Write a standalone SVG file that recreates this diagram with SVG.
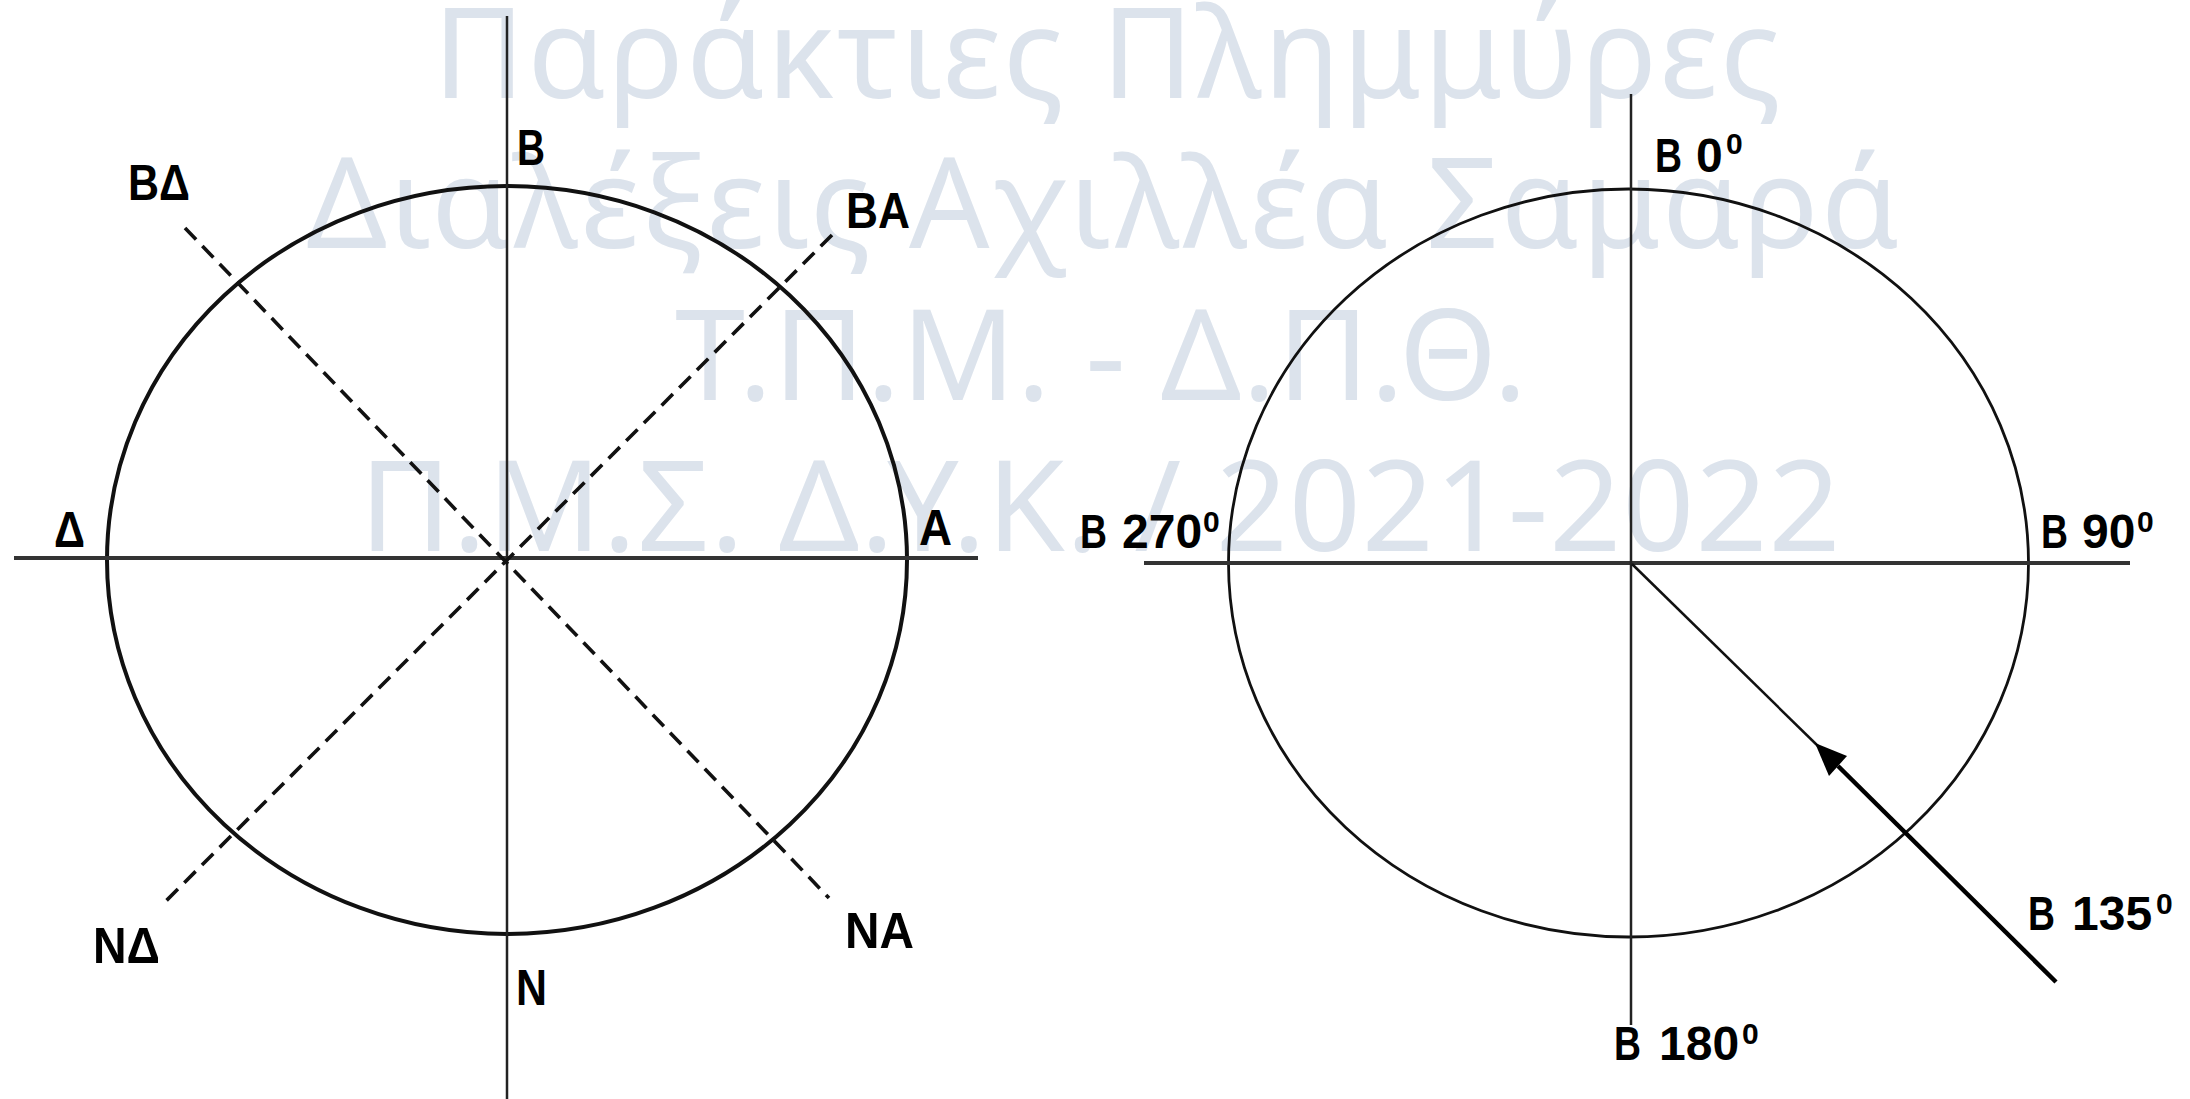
<svg xmlns="http://www.w3.org/2000/svg" width="2190" height="1099" viewBox="0 0 2190 1099">
<style>
.wm{font-family:"Noto Sans","Open Sans",sans-serif;font-size:126px;fill:#dce3ec;text-anchor:middle}
.lbl{font-family:"Liberation Sans",Arial,sans-serif;font-weight:bold;font-size:50px;fill:#000}
.deg{font-family:"Liberation Sans",Arial,sans-serif;font-weight:bold;font-size:48px;fill:#000}
.sup{font-size:30px}
.ell{fill:none;stroke:#111}
.axis-h{stroke:#333;stroke-width:4}
.axis-v{stroke:#222;stroke-width:2.5}
.dash{stroke:#111;stroke-width:3.6;stroke-dasharray:16 9;fill:none}
</style>
<rect width="2190" height="1099" fill="#fff"/>
<g id="watermark">
<text class="wm" x="1107" y="98" textLength="1348" lengthAdjust="spacing">Παράκτιες Πλημμύρες</text>
<text class="wm" x="1103" y="248" textLength="1593" lengthAdjust="spacing">Διαλέξεις Αχιλλέα Σαμαρά</text>
<text class="wm" x="1101" y="400" textLength="852" lengthAdjust="spacing">Τ.Π.Μ. - Δ.Π.Θ.</text>
<text class="wm" x="1100" y="551" textLength="1481" lengthAdjust="spacing">Π.Μ.Σ. Δ.Υ.Κ. / 2021-2022</text>
</g>
<g id="left-compass">
<ellipse class="ell" cx="507" cy="560" rx="400" ry="374" stroke-width="4"/>
</g>
<g id="right-compass">
<ellipse class="ell" cx="1628.5" cy="563" rx="400" ry="374" stroke-width="2.8"/>
</g>
<g id="connectors">
<line class="axis-h" x1="14" y1="558" x2="978" y2="558"/>
<line class="axis-v" x1="507" y1="16" x2="507" y2="1099"/>
<line class="dash" x1="185" y1="228" x2="829" y2="898"/>
<line class="dash" x1="832" y1="235" x2="165" y2="902"/>
<line class="axis-h" x1="1144" y1="563" x2="2130" y2="563"/>
<line class="axis-v" x1="1631" y1="94" x2="1631" y2="1025"/>
<line x1="1632" y1="564" x2="1820" y2="748" stroke="#111" stroke-width="2.5"/>
<line x1="1838" y1="766" x2="2056" y2="982" stroke="#000" stroke-width="4.5"/>
<polygon points="1815,743 1847,756 1829,776" fill="#000"/>
</g>
<g id="labels-left">
<text class="lbl" x="517" y="165" textLength="28" lengthAdjust="spacingAndGlyphs">Β</text>
<text class="lbl" x="128" y="200" textLength="62" lengthAdjust="spacingAndGlyphs">ΒΔ</text>
<text class="lbl" x="846" y="228" textLength="64" lengthAdjust="spacingAndGlyphs">ΒΑ</text>
<text class="lbl" x="54" y="547" textLength="31" lengthAdjust="spacingAndGlyphs">Δ</text>
<text class="lbl" x="919" y="545" textLength="33" lengthAdjust="spacingAndGlyphs">Α</text>
<text class="lbl" x="93" y="963" textLength="67" lengthAdjust="spacingAndGlyphs">ΝΔ</text>
<text class="lbl" x="845" y="948" textLength="69" lengthAdjust="spacingAndGlyphs">ΝΑ</text>
<text class="lbl" x="516" y="1005" textLength="31" lengthAdjust="spacingAndGlyphs">Ν</text>
</g>
<g id="labels-right">
<text class="deg" y="172"><tspan x="1655" textLength="27" lengthAdjust="spacingAndGlyphs">Β</tspan><tspan x="1696">0</tspan><tspan class="sup" x="1726" dy="-18">0</tspan></text>
<text class="deg" y="548"><tspan x="1080" textLength="27" lengthAdjust="spacingAndGlyphs">Β</tspan><tspan x="1122">270</tspan><tspan class="sup" x="1203" dy="-16">0</tspan></text>
<text class="deg" y="548"><tspan x="2041" textLength="27" lengthAdjust="spacingAndGlyphs">Β</tspan><tspan x="2082">90</tspan><tspan class="sup" x="2137" dy="-16">0</tspan></text>
<text class="deg" y="930"><tspan x="2028" textLength="27" lengthAdjust="spacingAndGlyphs">Β</tspan><tspan x="2072">135</tspan><tspan class="sup" x="2156" dy="-16">0</tspan></text>
<text class="deg" y="1060"><tspan x="1614" textLength="27" lengthAdjust="spacingAndGlyphs">Β</tspan><tspan x="1659">180</tspan><tspan class="sup" x="1742" dy="-16">0</tspan></text>
</g>
</svg>
